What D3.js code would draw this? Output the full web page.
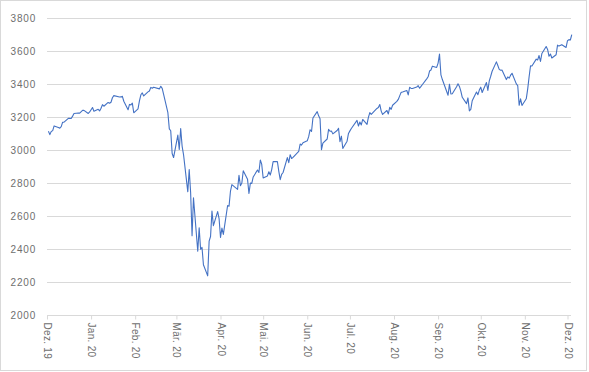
<!DOCTYPE html>
<html>
<head>
<meta charset="utf-8">
<script src="https://cdn.jsdelivr.net/npm/d3@7"></script>
<style>
  html, body { margin: 0; padding: 0; background: #fff; }
  svg { display: block; }
  text { font-family: "Liberation Sans", Arial, sans-serif; fill: #6e6e6e; }
</style>
</head>
<body>
<figure id="chart" style="margin:0"></figure>
<script>
// months of the series (first day of each month)
const months = ["2019-12", "2020-01", "2020-02", "2020-03", "2020-04", "2020-05",
  "2020-06", "2020-07", "2020-08", "2020-09", "2020-10", "2020-11", "2020-12"];

// trading days per month
const tradingDays = [
  [2,3,4,5,6,9,10,11,12,13,16,17,18,19,20,23,24,26,27,30,31],
  [2,3,6,7,8,9,10,13,14,15,16,17,21,22,23,24,27,28,29,30,31],
  [3,4,5,6,7,10,11,12,13,14,18,19,20,21,24,25,26,27,28],
  [2,3,4,5,6,9,10,11,12,13,16,17,18,19,20,23,24,25,26,27,30,31],
  [1,2,3,6,7,8,9,13,14,15,16,17,20,21,22,23,24,27,28,29,30],
  [1,4,5,6,7,8,11,12,13,14,15,18,19,20,21,22,26,27,28,29],
  [1,2,3,4,5,8,9,10,11,12,15,16,17,18,19,22,23,24,25,26,29,30],
  [1,2,6,7,8,9,10,13,14,15,16,17,20,21,22,23,24,27,28,29,30,31],
  [3,4,5,6,7,10,11,12,13,14,17,18,19,20,21,24,25,26,27,28,31],
  [1,2,3,4,8,9,10,11,14,15,16,17,18,21,22,23,24,25,28,29,30],
  [1,2,5,6,7,8,9,12,13,14,15,16,19,20,21,22,23,26,27,28,29,30],
  [2,3,4,5,6,9,10,11,12,13,16,17,18,19,20,23,24,25,27,30],
  [1,2,3,4]
];

// closing values per month
const closes = [
  [3113.87,3093.20,3112.76,3117.43,3145.91,3135.96,3132.52,3141.63,3168.57,3168.80,3191.45,3192.52,3191.14,3205.37,3221.22,3224.01,3223.38,3239.91,3240.02,3221.29,3230.78],
  [3257.85,3234.85,3246.28,3237.18,3253.05,3274.70,3265.35,3288.13,3283.15,3289.29,3316.81,3329.62,3320.79,3321.75,3325.54,3295.47,3243.63,3276.24,3273.40,3283.66,3225.52],
  [3248.92,3297.59,3334.69,3345.78,3327.71,3352.09,3357.75,3379.45,3373.94,3380.16,3370.29,3386.15,3373.23,3337.75,3225.89,3128.21,3116.39,2978.76,2954.22],
  [3090.23,3003.37,3130.12,3023.94,2972.37,2746.56,2882.23,2741.38,2480.64,2711.02,2386.13,2529.19,2398.10,2409.39,2304.92,2237.40,2447.33,2475.56,2630.07,2541.47,2626.65,2584.59],
  [2470.50,2526.90,2488.65,2663.68,2659.41,2749.98,2789.82,2761.63,2846.06,2783.36,2799.55,2874.56,2823.16,2736.56,2799.31,2797.80,2836.74,2878.48,2863.39,2939.51,2912.43],
  [2830.71,2842.74,2868.44,2848.42,2881.19,2929.80,2930.32,2870.12,2820.00,2852.50,2863.70,2953.91,2922.94,2971.61,2948.51,2955.45,2991.77,3036.13,3029.73,3044.31],
  [3055.73,3080.82,3122.87,3112.35,3193.93,3232.39,3207.18,3190.14,3002.10,3041.31,3066.59,3124.74,3113.49,3115.34,3097.74,3117.86,3131.29,3050.33,3083.76,3009.05,3053.24,3100.29],
  [3115.86,3130.01,3179.72,3145.32,3169.94,3152.05,3185.04,3155.22,3197.52,3226.56,3215.57,3224.73,3251.84,3257.30,3276.02,3235.66,3215.63,3239.41,3218.44,3258.44,3246.22,3271.12],
  [3294.61,3306.51,3327.77,3349.16,3351.28,3360.47,3333.69,3380.35,3373.43,3372.85,3381.99,3389.78,3374.85,3385.51,3397.16,3431.28,3443.62,3478.73,3484.55,3508.01,3500.31],
  [3526.65,3580.84,3455.06,3426.96,3331.84,3398.96,3339.19,3340.97,3383.54,3401.20,3385.49,3357.01,3319.47,3281.06,3315.57,3236.92,3246.59,3298.46,3351.60,3335.47,3363.00],
  [3380.80,3348.42,3408.60,3360.97,3419.44,3446.83,3477.14,3534.22,3511.93,3488.67,3483.34,3483.81,3426.92,3443.12,3435.56,3453.49,3465.39,3400.97,3390.68,3271.03,3310.11,3269.96],
  [3310.24,3369.16,3443.44,3510.45,3509.44,3550.50,3545.53,3572.66,3537.01,3585.15,3626.91,3609.53,3567.79,3581.87,3557.54,3577.59,3635.41,3629.65,3638.35,3621.63],
  [3662.45,3669.01,3666.72,3699.12]
];

// x tick labels (one per month)
const monthLabels = ["Dez. 19", "Jan. 20", "Feb. 20", "Mär. 20", "Apr. 20", "Mai. 20",
  "Jun. 20", "Jul. 20", "Aug. 20", "Sep. 20", "Okt. 20", "Nov. 20", "Dez. 20"];

// y ticks
const yTicks = [2000, 2200, 2400, 2600, 2800, 3000, 3200, 3400, 3600, 3800];

const width = 589, height = 372;
const parseMonth = d3.timeParse("%Y-%m");

const data = [];
months.forEach((m, i) => {
  const start = parseMonth(m);
  tradingDays[i].forEach((day, j) => {
    data.push({ date: new Date(start.getFullYear(), start.getMonth(), day), value: closes[i][j] });
  });
});
const monthDates = months.map(parseMonth);

const svg = d3.select("figure#chart")
  .append("svg")
  .attr("width", width)
  .attr("height", height);

// outer chart border
svg.append("rect")
  .attr("x", 0.5).attr("y", 0.5)
  .attr("width", 586).attr("height", 370)
  .attr("fill", "#fff")
  .attr("stroke", "#d9d9d9");

const x = d3.scaleTime()
  .domain([monthDates[0], monthDates[monthDates.length - 1]])
  .range([47, 567.5]);

const y = d3.scaleLinear()
  .domain([2000, 3800])
  .range([315, 18]);

// horizontal gridlines
svg.append("g")
  .selectAll("line")
  .data(yTicks.slice(1))
  .enter()
  .append("line")
  .attr("x1", 47).attr("x2", 571)
  .attr("y1", d => Math.round(y(d)) + 0.5)
  .attr("y2", d => Math.round(y(d)) + 0.5)
  .attr("stroke", "#d9d9d9")
  .attr("stroke-width", 1);

// y labels
svg.append("g")
  .selectAll("text")
  .data(yTicks)
  .enter()
  .append("text")
  .attr("x", 36)
  .attr("y", d => y(d))
  .attr("dy", "0.35em")
  .attr("text-anchor", "end")
  .style("font-size", "10px")
  .style("letter-spacing", "0.8px")
  .text(d => d);

// x axis line and ticks
const xAxis = svg.append("g")
  .attr("transform", "translate(0," + (Math.round(y(2000)) + 0.5) + ")")
  .call(d3.axisBottom(x)
    .tickValues(monthDates)
    .tickSize(4)
    .tickSizeOuter(0)
    .tickFormat((d, i) => monthLabels[i]));

xAxis.select(".domain")
  .attr("stroke", "#d9d9d9")
  .attr("d", "M47,0H571");
xAxis.selectAll(".tick line").attr("stroke", "#d9d9d9");
xAxis.selectAll("text")
  .attr("transform", "rotate(90)")
  .attr("x", 7)
  .attr("y", 0)
  .attr("dy", "0.35em")
  .style("text-anchor", "start")
  .style("font-size", "10px")
  .style("letter-spacing", "0.3px")
  .style("font-family", "'Liberation Sans', Arial, sans-serif")
  .attr("fill", "#6e6e6e");

// the series line
const line = d3.line()
  .x(d => x(d.date))
  .y(d => y(d.value));

svg.append("path")
  .datum(data)
  .attr("fill", "none")
  .attr("stroke", "#4472c4")
  .attr("stroke-width", 1.1)
  .attr("stroke-linejoin", "round")
  .attr("d", line);
</script>
</body>
</html>
